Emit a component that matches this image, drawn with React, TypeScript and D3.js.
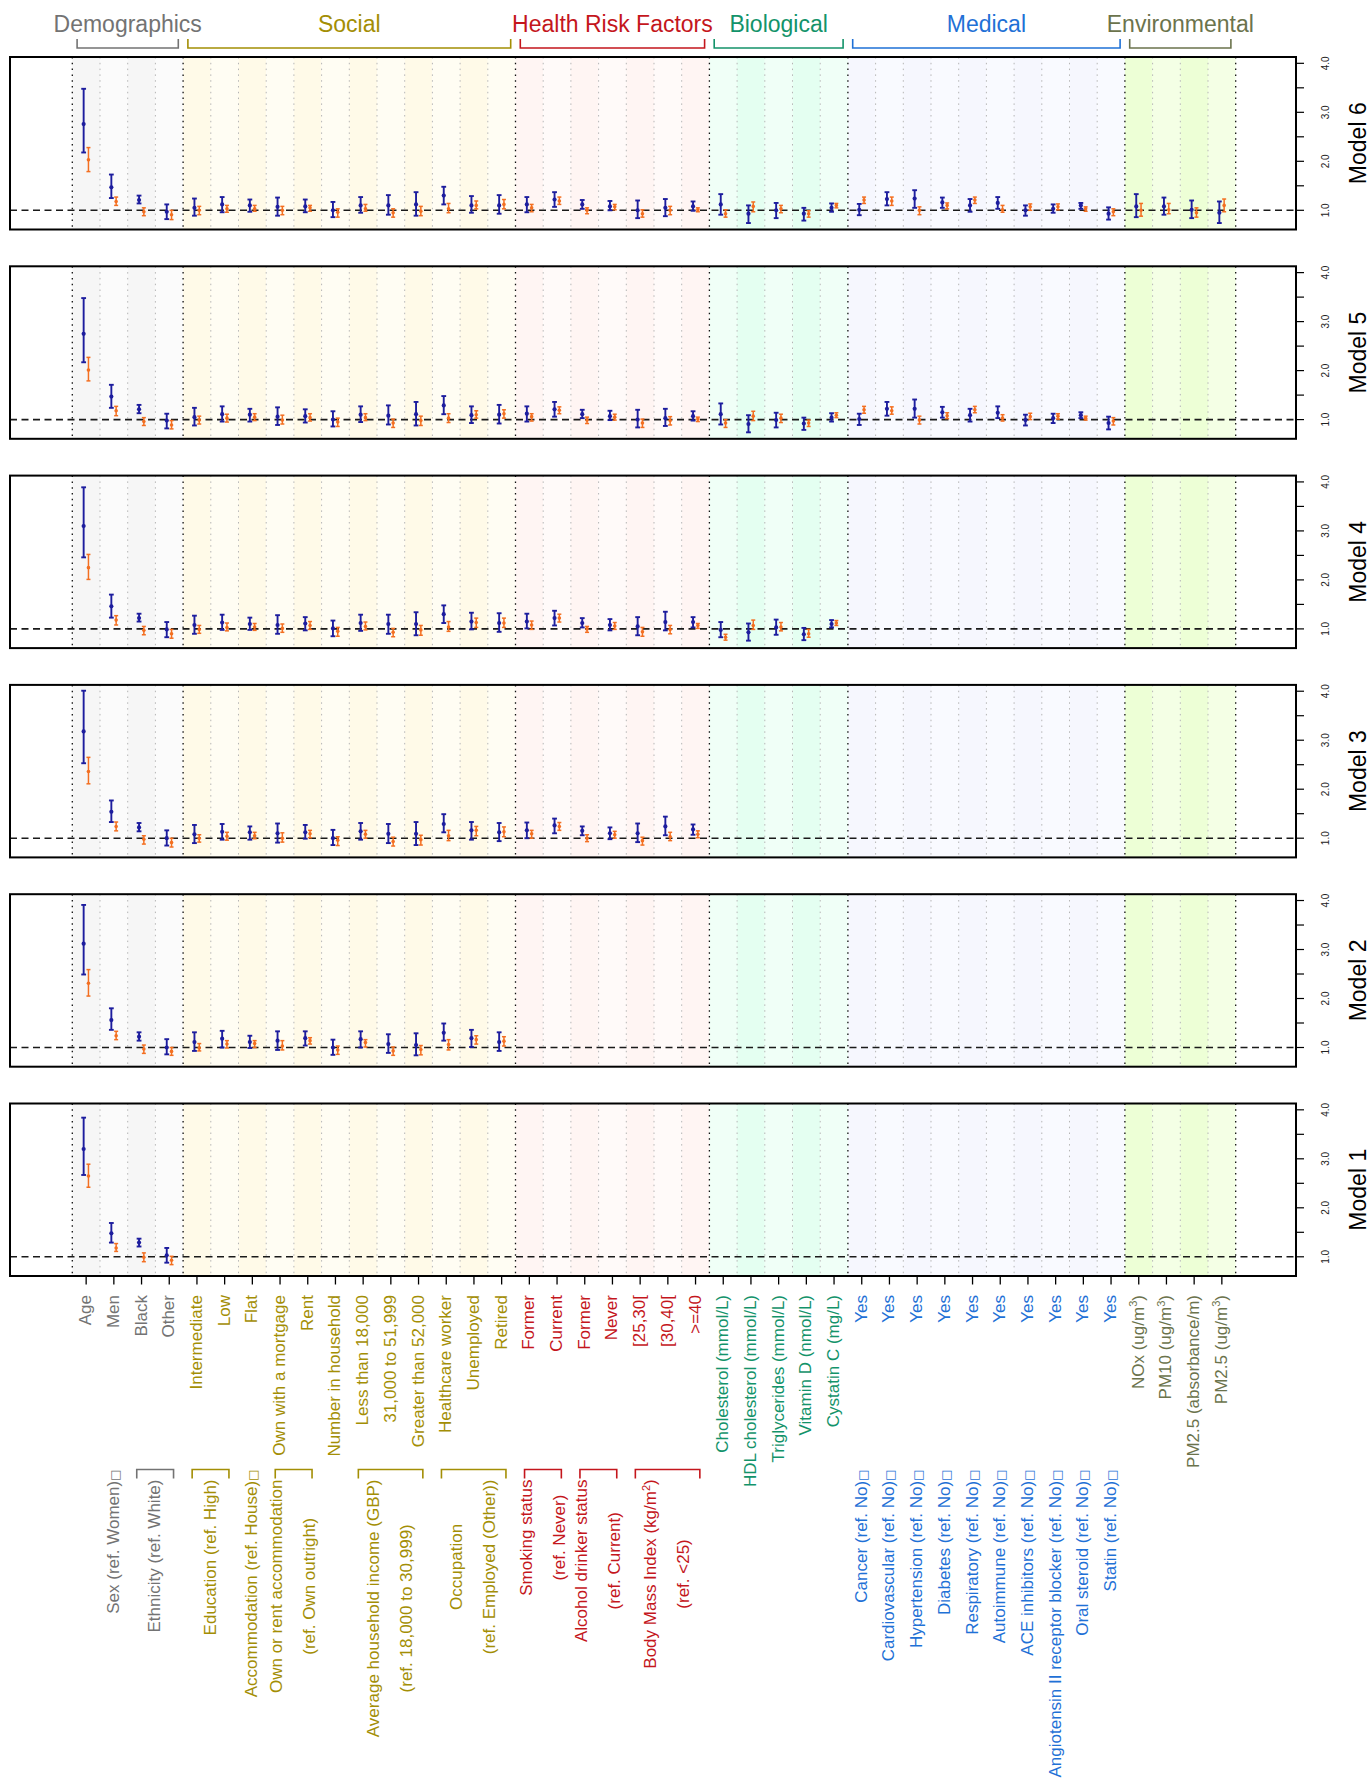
import React from "react";
import * as d3 from "d3";

// ---------- DATA ----------
const categories = [
  "Age", "Men", "Black", "Other",
  "Intermediate", "Low", "Flat", "Own with a mortgage", "Rent", "Number in household",
  "Less than 18,000", "31,000 to 51,999", "Greater than 52,000", "Healthcare worker", "Unemployed", "Retired",
  "Former", "Current", "Former", "Never", "[25,30[", "[30,40[", ">=40",
  "Cholesterol (mmol/L)", "HDL cholesterol (mmol/L)", "Triglycerides (mmol/L)", "Vitamin D (nmol/L)", "Cystatin C (mg/L)",
  "Yes", "Yes", "Yes", "Yes", "Yes", "Yes", "Yes", "Yes", "Yes", "Yes",
  "NOx (ug/m³)", "PM10 (ug/m³)", "PM2.5 (absorbance/m)", "PM2.5 (ug/m³)",
];

const groupNames = ["Demographics", "Social", "Health Risk Factors", "Biological", "Medical", "Environmental"];
const groupStart = [0, 4, 16, 23, 28, 38];
const groupEnd = [4, 16, 23, 28, 38, 42];
const groupColors = ["#737373", "#a38e05", "#c4161c", "#13936a", "#1f71d6", "#6b734c"];
const groupBgDark = ["#f6f6f6", "#fffae8", "#fff5f3", "#e4fff1", "#f6f7fe", "#edffd6"];
const groupBgLight = ["#fbfbfb", "#fffdf3", "#fffaf9", "#f0fff7", "#f9faff", "#f4ffe5"];

const refLabels = [
  { lines: ["Sex (ref. Women)"], from: 1, to: 1, box: true },
  { lines: ["Ethnicity (ref. White)"], from: 2, to: 3, box: false },
  { lines: ["Education (ref. High)"], from: 4, to: 5, box: false },
  { lines: ["Accommodation (ref. House)"], from: 6, to: 6, box: true },
  { lines: ["Own or rent accommodation", "(ref. Own outright)"], from: 7, to: 8, box: false },
  { lines: ["Average household income (GBP)", "(ref. 18,000 to 30,999)"], from: 10, to: 12, box: false },
  { lines: ["Occupation", "(ref. Employed (Other))"], from: 13, to: 15, box: false },
  { lines: ["Smoking status", "(ref. Never)"], from: 16, to: 17, box: false },
  { lines: ["Alcohol drinker status", "(ref. Current)"], from: 18, to: 19, box: false },
  { lines: ["Body Mass Index (kg/m²)", "(ref. <25)"], from: 20, to: 22, box: false },
  { lines: ["Cancer (ref. No)"], from: 28, to: 28, box: true },
  { lines: ["Cardiovascular (ref. No)"], from: 29, to: 29, box: true },
  { lines: ["Hypertension (ref. No)"], from: 30, to: 30, box: true },
  { lines: ["Diabetes (ref. No)"], from: 31, to: 31, box: true },
  { lines: ["Respiratory (ref. No)"], from: 32, to: 32, box: true },
  { lines: ["Autoimmune (ref. No)"], from: 33, to: 33, box: true },
  { lines: ["ACE inhibitors (ref. No)"], from: 34, to: 34, box: true },
  { lines: ["Angiotensin II receptor blocker (ref. No)"], from: 35, to: 35, box: true },
  { lines: ["Oral steroid (ref. No)"], from: 36, to: 36, box: true },
  { lines: ["Statin (ref. No)"], from: 37, to: 37, box: true },
];

const yTicks = [1, 1.5, 2, 2.5, 3, 3.5, 4];
const yTickLabels = ["1.0", "", "2.0", "", "3.0", "", "4.0"];

// [estimate, lower, upper]
const m6Blue = [
  [2.76, 2.18, 3.48], [1.47, 1.25, 1.73], [1.21, 1.14, 1.30], [0.97, 0.82, 1.12],
  [1.05, 0.89, 1.24], [1.12, 0.96, 1.27], [1.10, 0.97, 1.22], [1.07, 0.89, 1.26], [1.08, 0.96, 1.22], [1.00, 0.86, 1.17],
  [1.10, 0.95, 1.27], [1.10, 0.91, 1.31], [1.12, 0.89, 1.37], [1.30, 1.12, 1.48], [1.10, 0.95, 1.29], [1.10, 0.93, 1.31],
  [1.12, 0.96, 1.27], [1.22, 1.07, 1.37], [1.12, 1.03, 1.21], [1.08, 1.00, 1.19], [1.00, 0.84, 1.20], [1.05, 0.88, 1.23], [1.08, 0.99, 1.18],
  [1.12, 0.91, 1.33], [0.93, 0.74, 1.10], [1.00, 0.84, 1.15], [0.93, 0.79, 1.05], [1.05, 0.97, 1.14],
  [1.01, 0.90, 1.13], [1.23, 1.10, 1.37], [1.24, 1.05, 1.41], [1.16, 1.05, 1.26], [1.10, 0.97, 1.23],
  [1.15, 1.03, 1.27], [1.00, 0.89, 1.10], [1.03, 0.95, 1.12], [1.10, 1.03, 1.15], [0.93, 0.81, 1.06],
  [1.08, 0.86, 1.33], [1.08, 0.91, 1.26], [1.01, 0.84, 1.20], [0.95, 0.74, 1.18],
];
const m6Orange = [
  [2.03, 1.79, 2.28], [1.18, 1.10, 1.27], [0.97, 0.89, 1.05], [0.91, 0.81, 1.00],
  [1.00, 0.91, 1.08], [1.03, 0.96, 1.10], [1.03, 0.98, 1.10], [1.00, 0.91, 1.08], [1.05, 0.98, 1.10], [0.96, 0.86, 1.03],
  [1.03, 0.98, 1.12], [0.95, 0.86, 1.03], [0.98, 0.89, 1.08], [1.03, 0.95, 1.14], [1.10, 1.03, 1.19], [1.12, 1.03, 1.22],
  [1.05, 0.97, 1.12], [1.19, 1.12, 1.27], [1.00, 0.93, 1.05], [1.07, 1.01, 1.12], [0.93, 0.86, 1.01], [1.00, 0.91, 1.08], [1.01, 0.97, 1.05],
  [0.93, 0.86, 1.01], [1.08, 0.97, 1.17], [1.03, 0.95, 1.10], [0.93, 0.86, 0.99], [1.10, 1.05, 1.14],
  [1.21, 1.14, 1.27], [1.19, 1.10, 1.27], [1.00, 0.91, 1.07], [1.10, 1.03, 1.15], [1.21, 1.14, 1.27],
  [1.01, 0.96, 1.10], [1.07, 1.00, 1.13], [1.07, 1.01, 1.13], [1.03, 0.98, 1.07], [0.97, 0.89, 1.03],
  [1.00, 0.88, 1.14], [1.01, 0.93, 1.14], [0.95, 0.86, 1.05], [1.10, 0.97, 1.23],
];
const m5Blue = [
  [2.75, 2.17, 3.48], [1.47, 1.24, 1.71], [1.21, 1.13, 1.30], [0.98, 0.82, 1.12],
  [1.05, 0.88, 1.24], [1.11, 0.96, 1.27], [1.10, 0.96, 1.22], [1.06, 0.89, 1.25], [1.07, 0.94, 1.21], [1.00, 0.86, 1.17],
  [1.10, 0.95, 1.27], [1.08, 0.90, 1.29], [1.11, 0.88, 1.36], [1.29, 1.11, 1.48], [1.09, 0.93, 1.27], [1.10, 0.92, 1.30],
  [1.12, 0.96, 1.27], [1.21, 1.06, 1.36], [1.11, 1.03, 1.20], [1.07, 0.99, 1.18], [1.00, 0.84, 1.20], [1.03, 0.87, 1.22], [1.07, 0.98, 1.17],
  [1.11, 0.90, 1.33], [0.91, 0.74, 1.09], [0.99, 0.84, 1.14], [0.92, 0.79, 1.04], [1.04, 0.96, 1.13],
  [1.01, 0.89, 1.12], [1.22, 1.08, 1.36], [1.22, 1.04, 1.41], [1.15, 1.04, 1.26], [1.09, 0.96, 1.22],
  [1.14, 1.03, 1.27], [0.99, 0.88, 1.10], [1.03, 0.93, 1.12], [1.09, 1.03, 1.15], [0.93, 0.80, 1.06],
];
const m5Orange = [
  [2.01, 1.79, 2.27], [1.18, 1.08, 1.27], [0.96, 0.88, 1.04], [0.89, 0.81, 0.98],
  [0.99, 0.91, 1.07], [1.03, 0.95, 1.11], [1.05, 0.98, 1.12], [0.99, 0.91, 1.09], [1.04, 0.97, 1.12], [0.95, 0.86, 1.03],
  [1.04, 0.98, 1.12], [0.93, 0.84, 1.01], [0.98, 0.88, 1.07], [1.03, 0.94, 1.12], [1.10, 1.03, 1.18], [1.12, 1.03, 1.20],
  [1.06, 0.97, 1.12], [1.19, 1.12, 1.26], [0.99, 0.92, 1.05], [1.05, 0.99, 1.11], [0.93, 0.84, 1.01], [0.98, 0.89, 1.06], [1.01, 0.96, 1.05],
  [0.93, 0.84, 1.00], [1.07, 0.98, 1.17], [1.03, 0.94, 1.11], [0.93, 0.86, 0.99], [1.09, 1.04, 1.14],
  [1.20, 1.13, 1.27], [1.18, 1.11, 1.26], [0.99, 0.91, 1.07], [1.08, 1.02, 1.14], [1.20, 1.14, 1.27],
  [1.03, 0.97, 1.10], [1.06, 1.00, 1.13], [1.07, 1.01, 1.12], [1.03, 0.99, 1.07], [0.97, 0.89, 1.04],
];
const m4Blue = [
  [3.10, 2.46, 3.89], [1.46, 1.23, 1.70], [1.22, 1.15, 1.31], [0.99, 0.83, 1.14],
  [1.08, 0.90, 1.27], [1.13, 0.98, 1.29], [1.10, 0.98, 1.23], [1.08, 0.90, 1.28], [1.11, 0.97, 1.24], [1.01, 0.85, 1.17],
  [1.12, 0.96, 1.29], [1.10, 0.90, 1.29], [1.10, 0.87, 1.34], [1.30, 1.12, 1.48], [1.15, 0.99, 1.33], [1.12, 0.94, 1.32],
  [1.15, 1.01, 1.31], [1.22, 1.07, 1.37], [1.12, 1.03, 1.22], [1.08, 0.97, 1.20], [1.05, 0.87, 1.24], [1.14, 0.97, 1.35], [1.14, 1.03, 1.24],
  [0.98, 0.83, 1.14], [0.93, 0.76, 1.11], [1.03, 0.88, 1.19], [0.89, 0.77, 1.02], [1.10, 1.03, 1.18],
];
const m4Orange = [
  [2.25, 2.01, 2.52], [1.18, 1.08, 1.27], [0.97, 0.88, 1.05], [0.90, 0.81, 0.99],
  [0.99, 0.91, 1.07], [1.03, 0.96, 1.12], [1.04, 0.97, 1.11], [1.01, 0.93, 1.10], [1.07, 0.99, 1.15], [0.95, 0.85, 1.03],
  [1.05, 0.98, 1.14], [0.93, 0.84, 1.01], [0.98, 0.87, 1.07], [1.04, 0.95, 1.15], [1.13, 1.03, 1.22], [1.12, 1.03, 1.22],
  [1.08, 0.99, 1.16], [1.22, 1.14, 1.30], [1.00, 0.93, 1.05], [1.06, 0.99, 1.13], [0.94, 0.85, 1.03], [0.99, 0.90, 1.07], [1.07, 1.01, 1.11],
  [0.83, 0.77, 0.89], [1.07, 0.99, 1.18], [1.04, 0.96, 1.13], [0.90, 0.83, 0.99], [1.12, 1.07, 1.17],
];
const m3Blue = [
  [3.18, 2.53, 4.01], [1.54, 1.33, 1.77], [1.22, 1.14, 1.31], [1.00, 0.85, 1.16],
  [1.08, 0.90, 1.27], [1.13, 0.97, 1.29], [1.12, 0.97, 1.24], [1.10, 0.91, 1.30], [1.12, 0.99, 1.27], [1.00, 0.86, 1.17],
  [1.14, 0.97, 1.31], [1.09, 0.90, 1.29], [1.09, 0.86, 1.33], [1.29, 1.12, 1.49], [1.16, 0.97, 1.33], [1.12, 0.94, 1.31],
  [1.16, 1.00, 1.32], [1.26, 1.10, 1.40], [1.15, 1.06, 1.24], [1.10, 0.98, 1.22], [1.10, 0.92, 1.30], [1.24, 1.06, 1.44], [1.18, 1.07, 1.28],
];
const m3Orange = [
  [2.36, 2.11, 2.65], [1.24, 1.15, 1.33], [0.98, 0.88, 1.05], [0.91, 0.82, 1.00],
  [1.00, 0.92, 1.07], [1.04, 0.96, 1.12], [1.05, 0.99, 1.12], [1.00, 0.92, 1.11], [1.09, 1.01, 1.16], [0.96, 0.85, 1.03],
  [1.08, 1.00, 1.16], [0.93, 0.84, 1.02], [0.97, 0.86, 1.06], [1.05, 0.95, 1.16], [1.16, 1.05, 1.24], [1.13, 1.03, 1.23],
  [1.09, 1.00, 1.16], [1.24, 1.16, 1.32], [1.00, 0.93, 1.07], [1.07, 1.00, 1.14], [0.95, 0.86, 1.02], [1.03, 0.95, 1.12], [1.08, 1.01, 1.15],
];
const m2Blue = [
  [3.12, 2.49, 3.91], [1.56, 1.36, 1.80], [1.22, 1.14, 1.31], [1.00, 0.86, 1.17],
  [1.11, 0.93, 1.31], [1.18, 1.00, 1.34], [1.11, 0.99, 1.24], [1.14, 0.95, 1.33], [1.19, 1.04, 1.33], [1.00, 0.85, 1.16],
  [1.17, 1.00, 1.33], [1.07, 0.89, 1.27], [1.05, 0.84, 1.29], [1.30, 1.14, 1.49], [1.19, 1.01, 1.36], [1.11, 0.93, 1.31],
];
const m2Orange = [
  [2.31, 2.05, 2.59], [1.24, 1.16, 1.33], [0.97, 0.88, 1.05], [0.92, 0.84, 1.00],
  [0.99, 0.93, 1.08], [1.07, 0.99, 1.14], [1.08, 1.00, 1.14], [1.03, 0.95, 1.14], [1.14, 1.07, 1.20], [0.95, 0.86, 1.03],
  [1.10, 1.01, 1.16], [0.93, 0.84, 1.01], [0.96, 0.85, 1.04], [1.06, 0.95, 1.16], [1.16, 1.07, 1.24], [1.13, 1.03, 1.22],
];
const m1Blue = [[3.20, 2.67, 3.84], [1.48, 1.29, 1.69], [1.29, 1.21, 1.37], [1.03, 0.88, 1.18]];
const m1Orange = [[2.65, 2.42, 2.89], [1.18, 1.11, 1.27], [0.99, 0.90, 1.08], [0.93, 0.84, 1.01]];

const modelNames = ["Model 6", "Model 5", "Model 4", "Model 3", "Model 2", "Model 1"];
const blueSeries = [m6Blue, m5Blue, m4Blue, m3Blue, m2Blue, m1Blue];
const orangeSeries = [m6Orange, m5Orange, m4Orange, m3Orange, m2Orange, m1Orange];

// ---------- LAYOUT ----------
const W = 1370;
const H = 1783;
const FONT = '"Liberation Sans", Arial, Helvetica, sans-serif';
const PANEL_LEFT = 10;
const PANEL_RIGHT = 1296;
const PANEL_TOP0 = 57;
const PANEL_STEP = 209.3;
const PANEL_H = 172.5;
const BLUE = "#1d1d9e";
const ORANGE = "#f36f21";

let measureCtx: CanvasRenderingContext2D | null = null;
function textWidth(s: string, size: number) {
  if (!measureCtx) {
    const c = document.createElement("canvas");
    measureCtx = c.getContext("2d");
  }
  if (!measureCtx) return s.length * size * 0.5;
  measureCtx.font = `${size}px ${FONT}`;
  return measureCtx.measureText(s).width;
}

function rich(s: string, size: number) {
  const parts = s.split(/([²³])/).filter((p) => p !== "");
  const out: any[] = [];
  let raised = false;
  parts.forEach((p, idx) => {
    if (p === "²" || p === "³") {
      out.push(
        <tspan key={idx} fontSize={size * 0.65} dy={-size * 0.38}>
          {p === "²" ? "2" : "3"}
        </tspan>
      );
      raised = true;
    } else {
      out.push(
        <tspan key={idx} dy={raised ? size * 0.38 : 0}>
          {p}
        </tspan>
      );
      raised = false;
    }
  });
  return out;
}

function groupOf(i: number) {
  for (let g = 0; g < groupStart.length; g++) if (i >= groupStart[g] && i < groupEnd[g]) return g;
  return 0;
}

export default function App() {
  const x = d3.scaleLinear().domain([-2.249, 44.177]).range([PANEL_LEFT, PANEL_RIGHT]);
  const colC = (i: number) => x(i + 0.5);
  const boundaries = d3.range(1, 42);
  const blackB = [0, 4, 16, 23, 28, 38, 42];

  const panels = modelNames.map((name, k) => {
    const top = PANEL_TOP0 + PANEL_STEP * k;
    const bottom = top + PANEL_H;
    const y = d3.scaleLinear().domain([0.608, 4.129]).range([bottom, top]);
    const blue = blueSeries[k];
    const orange = orangeSeries[k];
    const bar = (d: number[], cx: number, color: string, sw: number, cap: number, r: number, key: string) => (
      <g key={key}>
        <line x1={cx} x2={cx} y1={y(d[1])} y2={y(d[2])} stroke={color} strokeWidth={sw} />
        <line x1={cx - cap} x2={cx + cap} y1={y(d[1])} y2={y(d[1])} stroke={color} strokeWidth={sw} />
        <line x1={cx - cap} x2={cx + cap} y1={y(d[2])} y2={y(d[2])} stroke={color} strokeWidth={sw} />
        <circle cx={cx} cy={y(d[0])} r={r} fill={color} />
      </g>
    );
    return (
      <g key={name}>
        {categories.map((_, i) => {
          const g = groupOf(i);
          return (
            <rect
              key={"bg" + i}
              x={x(i)}
              y={top}
              width={x(i + 1) - x(i)}
              height={PANEL_H}
              fill={i % 2 === 0 ? groupBgDark[g] : groupBgLight[g]}
            />
          );
        })}
        {boundaries
          .filter((b) => !blackB.includes(b))
          .map((b) => (
            <line key={"gl" + b} x1={x(b)} x2={x(b)} y1={top} y2={bottom} stroke="#b5b5b5" strokeWidth={1} strokeDasharray="1.5,4.3" />
          ))}
        {blackB.map((b) => (
          <line key={"bl" + b} x1={x(b)} x2={x(b)} y1={top} y2={bottom} stroke="#111" strokeWidth={1.3} strokeDasharray="1.5,4.3" />
        ))}
        <line x1={PANEL_LEFT} x2={PANEL_RIGHT} y1={y(1)} y2={y(1)} stroke="#1a1a1a" strokeWidth={1.6} strokeDasharray="7,4.5" />
        {blue.map((d, i) => bar(d, colC(i) - 2.5, BLUE, 1.9, 2.4, 2.1, "b" + i))}
        {orange.map((d, i) => bar(d, colC(i) + 2.3, ORANGE, 1.5, 2.0, 1.8, "o" + i))}
        <rect x={PANEL_LEFT} y={top} width={PANEL_RIGHT - PANEL_LEFT} height={PANEL_H} fill="none" stroke="#000" strokeWidth={2} />
        {yTicks.map((t, j) => (
          <g key={"yt" + j}>
            <line x1={PANEL_RIGHT} x2={PANEL_RIGHT + 8} y1={y(t)} y2={y(t)} stroke="#000" strokeWidth={1.2} />
            {yTickLabels[j] && (
              <text
                transform={`translate(${PANEL_RIGHT + 33},${y(t)}) rotate(-90)`}
                textAnchor="middle"
                fontFamily={FONT}
                fontSize={10}
                fill="#222"
              >
                {yTickLabels[j]}
              </text>
            )}
          </g>
        ))}
        <text
          transform={`translate(1366,${(top + bottom) / 2}) rotate(-90)`}
          textAnchor="middle"
          fontFamily={FONT}
          fontSize={23}
          fill="#000"
        >
          {name}
        </text>
      </g>
    );
  });

  const lastBottom = PANEL_TOP0 + PANEL_STEP * 5 + PANEL_H;
  const LBL = 17;
  const bracketY = 1469.5;
  const refEndY = 1479.5;

  return (
    <svg width={W} height={H} viewBox={`0 0 ${W} ${H}`} style={{ position: "absolute", left: 0, top: 0, background: "#fff" }}>
      <rect x={0} y={0} width={W} height={H} fill="#fff" />
      {/* header */}
      {groupNames.map((g, gi) => {
        const x0 = x(groupStart[gi]) + 4.8;
        const x1 = x(groupEnd[gi]) - 4.8;
        return (
          <g key={g}>
            <text x={(x0 + x1) / 2} y={32} textAnchor="middle" fontFamily={FONT} fontSize={23} fill={groupColors[gi]}>
              {g}
            </text>
            <path d={`M${x0},39 V48 H${x1} V39`} fill="none" stroke={groupColors[gi]} strokeWidth={1.6} />
          </g>
        );
      })}
      {panels}
      {/* bottom ticks */}
      {categories.map((_, i) => (
        <line key={"bt" + i} x1={colC(i)} x2={colC(i)} y1={lastBottom} y2={lastBottom + 8.5} stroke="#000" strokeWidth={1.3} />
      ))}
      {/* first row labels */}
      {categories.map((c, i) => (
        <text
          key={"cl" + i}
          transform={`translate(${colC(i) + 5},1295) rotate(-90)`}
          textAnchor="end"
          fontFamily={FONT}
          fontSize={LBL}
          fill={groupColors[groupOf(i)]}
        >
          {rich(c, LBL)}
        </text>
      ))}
      {/* reference group labels */}
      {refLabels.map((r, ri) => {
        const color = groupColors[groupOf(r.from)];
        const mid = (colC(r.from) + colC(r.to)) / 2;
        const n = r.lines.length;
        const els: any[] = [];
        if (r.to > r.from) {
          const bx0 = colC(r.from) - 4.8;
          const bx1 = colC(r.to) + 4.3;
          els.push(
            <path
              key="br"
              d={`M${bx0},${bracketY + 9} V${bracketY} H${bx1} V${bracketY + 9}`}
              fill="none"
              stroke={color}
              strokeWidth={1.6}
            />
          );
        }
        if (n === 1) {
          const endY = r.box ? bracketY : refEndY;
          els.push(
            <text
              key="t"
              transform={`translate(${mid + 5},${endY}) rotate(-90)`}
              textAnchor="end"
              fontFamily={FONT}
              fontSize={LBL}
              fill={color}
            >
              {rich(r.lines[0], LBL)}
              {r.box && (
                <tspan fontFamily='"DejaVu Sans", sans-serif' fontSize={12}>
                  □
                </tspan>
              )}
            </text>
          );
        } else {
          const L = Math.max(...r.lines.map((s) => textWidth(s, LBL)));
          const yc = refEndY + L / 2;
          r.lines.forEach((s, j) => {
            els.push(
              <text
                key={"t" + j}
                transform={`translate(${mid + 5 + (j - (n - 1) / 2) * 33},${yc}) rotate(-90)`}
                textAnchor="middle"
                fontFamily={FONT}
                fontSize={LBL}
                fill={color}
              >
                {rich(s, LBL)}
              </text>
            );
          });
        }
        return <g key={"rl" + ri}>{els}</g>;
      })}
    </svg>
  );
}
